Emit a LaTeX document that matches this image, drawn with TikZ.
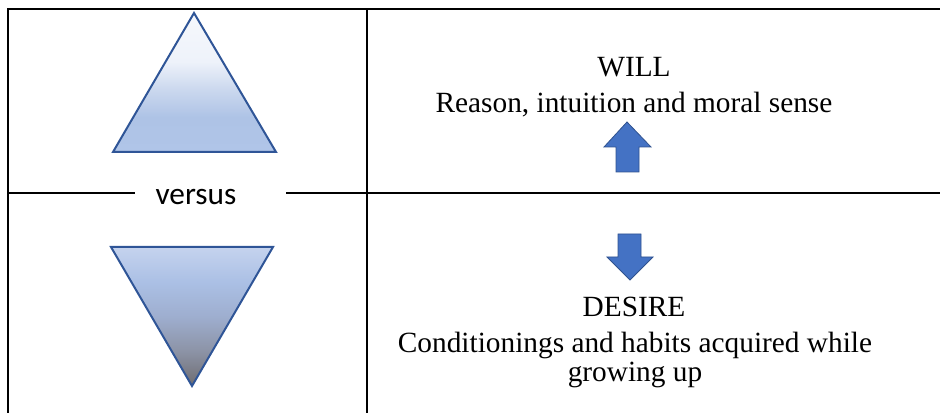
\documentclass[tikz,border=0pt]{standalone}
\usepackage{fontspec}
\setmainfont{Liberation Serif}
\newfontfamily\versusfont{Carlito}
\usepackage{tikz}

\definecolor{triedge}{HTML}{2F5597}
\definecolor{arrowfill}{HTML}{4472C4}
\definecolor{arrowedge}{HTML}{2F528F}

% light on top, blue below
\pgfdeclareverticalshading{willshade}{100bp}{%
  color(0bp)=({rgb,255:red,176;green,197;blue,232});
  color(25bp)=({rgb,255:red,176;green,197;blue,232});
  color(37.5bp)=({rgb,255:red,174;green,195;blue,230});
  color(47.5bp)=({rgb,255:red,203;green,216;blue,238});
  color(57.5bp)=({rgb,255:red,238;green,242;blue,250});
  color(75bp)=({rgb,255:red,246;green,248;blue,252});
  color(100bp)=({rgb,255:red,246;green,248;blue,252})}
% blue on top, grey at the tip
\pgfdeclareverticalshading{desireshade}{100bp}{%
  color(0bp)=({rgb,255:red,110;green,108;blue,112});
  color(25bp)=({rgb,255:red,110;green,108;blue,112});
  color(37.5bp)=({rgb,255:red,140;green,147;blue,166});
  color(50bp)=({rgb,255:red,158;green,174;blue,207});
  color(62.5bp)=({rgb,255:red,171;green,192;blue,229});
  color(75bp)=({rgb,255:red,197;green,211;blue,238});
  color(100bp)=({rgb,255:red,197;green,211;blue,238})}

\begin{document}
\begin{tikzpicture}[x=0.75pt,y=0.75pt,
  tableline/.style={line width=1.3pt,black},
  tri/.style={draw=triedge,line width=1.5pt,line join=miter},
  blockarrow/.style={fill=arrowfill,draw=arrowedge,line width=0.6pt},
  label/.style={anchor=base,inner sep=0pt,font=\fontsize{22}{26}\selectfont},
  versus/.style={anchor=base,inner sep=0pt,font=\versusfont\fontsize{23.5}{28}\selectfont}]
  \useasboundingbox (0,0) rectangle (940,413);

  % table
  \draw[tableline] (8,0) -- (8,404) -- (940,404);
  \draw[tableline] (367,0) -- (367,404);
  \draw[tableline] (8,220) -- (940,220);

  % triangles
  \shade[shading=willshade,tri] (194,400) -- (276,261) -- (113,261) -- cycle;
  \shade[shading=desireshade,tri] (111,166) -- (273,166) -- (192,27) -- cycle;

  % versus label over the line
  \fill[white] (135,210) rectangle (286,230);
  \node[versus] (vs) at (196,208) {versus};

  % arrows
  \draw[blockarrow] (627,291) -- (651,266) -- (639,266) -- (639,241)
    -- (616,241) -- (616,266) -- (604,266) -- cycle;
  \draw[blockarrow] (618,179) -- (641,179) -- (641,156) -- (653,156)
    -- (630,133) -- (607,156) -- (618,156) -- cycle;

  % texts
  \node[label] (will) at (634,336) {WILL};
  \node[label] (reason) at (634,300) {Reason, intuition and moral sense};
  \node[label] (desire) at (634,96) {DESIRE};
  \node[label] (cond) at (635,60) {Conditionings and habits acquired while};
  \node[label] (grow) at (635,31) {growing up};
\end{tikzpicture}
\end{document}
